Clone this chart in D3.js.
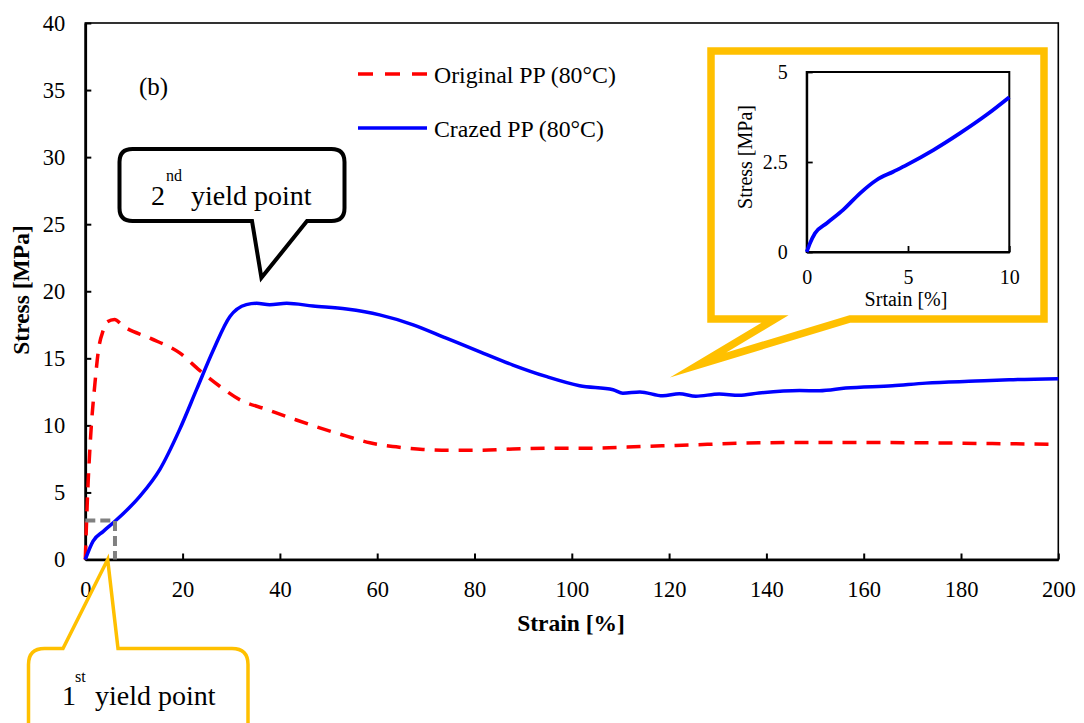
<!DOCTYPE html>
<html>
<head>
<meta charset="utf-8">
<script src="https://cdn.jsdelivr.net/npm/d3@7"></script>
<style>
  body { margin: 0; background: #fff; }
  svg text { font-family: "Liberation Serif", "Times New Roman", Tinos, "DejaVu Serif", serif; fill: #000; }
</style>
</head>
<body>
<svg id="chart" width="1084" height="723"></svg>
<script>
"use strict";

const serif = '"Liberation Serif", "Times New Roman", Tinos, "DejaVu Serif", serif';

// Original PP (80°C)
const origStrain = [0, 0.4, 1.1, 2.0, 2.7, 3.7, 4.4, 6.0, 7.8, 13.3, 19.4, 23.5, 27.7, 31.8, 37.2, 43.4, 47.5, 53.7, 58.5, 63.9, 69.4, 75.6, 81, 87.9, 94.7, 105, 115.3, 121.4, 138.5, 155.6, 172.8, 186.4, 198];
const origStress = [0, 4.2, 9.2, 13.2, 15.6, 17.1, 17.7, 17.9, 17.4, 16.5, 15.4, 14.1, 12.9, 11.9, 11.2, 10.4, 9.9, 9.2, 8.7, 8.4, 8.2, 8.14, 8.14, 8.24, 8.29, 8.3, 8.44, 8.5, 8.7, 8.73, 8.7, 8.64, 8.6];

// Crazed PP (80°C)
const crazStrain = [0, 1.6, 3.7, 6.1, 11.2, 15.3, 19.4, 22.9, 26.3, 29.7, 33.1, 35.2, 37.9, 41.4, 46.8, 53.7, 60.5, 67.4, 74.2, 81, 87.9, 94.7, 101.6, 108.5, 110.5, 114, 118.7, 122.1, 125.5, 130.3, 134.4, 138.5, 146.8, 150.9, 156.3, 165.9, 172.8, 183, 189.9, 200];
const crazStress = [0, 1.37, 2.1, 2.85, 4.7, 6.7, 9.7, 12.7, 15.6, 18.1, 19.0, 19.1, 19.0, 19.1, 18.9, 18.67, 18.24, 17.5, 16.5, 15.5, 14.5, 13.65, 12.96, 12.66, 12.4, 12.49, 12.2, 12.36, 12.17, 12.34, 12.24, 12.41, 12.6, 12.58, 12.78, 12.96, 13.15, 13.3, 13.4, 13.48];

// inset: crazed PP, first 10 %
const insetStrain = [0, 0.16, 0.41, 0.99, 1.8, 2.63, 3.45, 4.27, 4.94, 6.25, 7.57, 8.88, 10];
const insetStress = [0, 0.24, 0.52, 0.8, 1.17, 1.63, 2.0, 2.23, 2.42, 2.83, 3.3, 3.81, 4.3];

const xTicks = [0, 20, 40, 60, 80, 100, 120, 140, 160, 180, 200];
const yTicks = [0, 5, 10, 15, 20, 25, 30, 35, 40];
const insetXTicks = [0, 5, 10];
const insetYTicks = [0, 2.5, 5];

const seriesNames = ["Original PP (80°C)", "Crazed PP (80°C)"];
const colors = ["#FF0000", "#0000FF"];
const gold = "#FFC000";

const svg = d3.select("#chart");

const x = d3.scaleLinear().domain([0, 200]).range([85.3, 1058.3]);
const y = d3.scaleLinear().domain([0, 40]).range([559.5, 23]);

const zip = (a, b) => a.map((v, i) => [v, b[i]]);

// frame
svg.append("rect")
  .attr("x", x(0)).attr("y", y(40))
  .attr("width", x(200) - x(0)).attr("height", y(0) - y(40))
  .attr("fill", "none").attr("stroke", "#000").attr("stroke-width", 1.6);

// axes
const xAxis = d3.axisBottom(x).tickValues(xTicks).tickSizeInner(-6).tickSizeOuter(0).tickPadding(22);
const yAxis = d3.axisLeft(y).tickValues(yTicks).tickSizeInner(-6).tickSizeOuter(0).tickPadding(20);

const gx = svg.append("g").attr("transform", `translate(0,${y(0)})`).call(xAxis);
const gy = svg.append("g").attr("transform", `translate(${x(0)},0)`).call(yAxis);
[gx, gy].forEach(g => {
  g.attr("font-family", null);
  g.select(".domain").attr("stroke-width", 2.6);
  g.selectAll(".tick line").attr("stroke-width", 2);
  g.selectAll(".tick text")
    .style("font-family", serif)
    .style("font-size", "22.5px").attr("fill", "#000");
});

svg.append("text")
  .attr("x", 571).attr("y", 631)
  .attr("text-anchor", "middle")
  .style("font-size", "23.5px").style("font-weight", "bold")
  .text("Strain [%]");

svg.append("text")
  .attr("transform", "translate(29,290) rotate(-90)")
  .attr("text-anchor", "middle")
  .style("font-size", "23.5px").style("font-weight", "bold")
  .text("Stress [MPa]");

svg.append("text")
  .attr("x", 139).attr("y", 95)
  .style("font-size", "25px")
  .text("(b)");

// curves
const line = d3.line().x(d => x(d[0])).y(d => y(d[1])).curve(d3.curveMonotoneX);

svg.append("path")
  .datum(zip(origStrain, origStress))
  .attr("d", line)
  .attr("fill", "none")
  .attr("stroke", colors[0])
  .attr("stroke-width", 3.5)
  .attr("stroke-dasharray", "14,10");

svg.append("path")
  .datum(zip(crazStrain, crazStress))
  .attr("d", line)
  .attr("fill", "none")
  .attr("stroke", colors[1])
  .attr("stroke-width", 3.5);

// legend
const legend = svg.append("g");
seriesNames.forEach((name, i) => {
  const ly = 74 + i * 54;
  legend.append("line")
    .attr("x1", 358).attr("x2", 427).attr("y1", ly).attr("y2", ly)
    .attr("stroke", colors[i]).attr("stroke-width", 3.5)
    .attr("stroke-dasharray", i === 0 ? "15,12" : null);
  legend.append("text")
    .attr("x", 434).attr("y", ly + 9)
    .style("font-size", "23.8px")
    .text(name);
});

// gray dashed box around first yield region
const boxX = 6.1, boxY = 2.9;
svg.append("path")
  .attr("d", `M${x(0)},${y(boxY)} H${x(boxX)} V${y(0)}`)
  .attr("fill", "none").attr("stroke", "#808080")
  .attr("stroke-width", 4).attr("stroke-dasharray", "10,5");

// callout path helpers
function calloutBottom(x0, y0, x1, y1, r, tl, tr, tx, ty) {
  const q = r ? (a, b, c, d) => `Q${a},${b} ${c},${d}` : (a, b, c, d) => `L${a},${b}`;
  return `M${x0 + r},${y0} H${x1 - r} ${q(x1, y0, x1, y0 + r)} V${y1 - r} ${q(x1, y1, x1 - r, y1)}` +
    ` H${tr} L${tx},${ty} L${tl},${y1} H${x0 + r} ${q(x0, y1, x0, y1 - r)} V${y0 + r} ${q(x0, y0, x0 + r, y0)} Z`;
}
function calloutTop(x0, y0, x1, y1, r, tl, tr, tx, ty) {
  return `M${x0 + r},${y0} H${tl} L${tx},${ty} L${tr},${y0} H${x1 - r} Q${x1},${y0} ${x1},${y0 + r}` +
    ` V${y1 - r} Q${x1},${y1} ${x1 - r},${y1} H${x0 + r} Q${x0},${y1} ${x0},${y1 - r} V${y0 + r} Q${x0},${y0} ${x0 + r},${y0} Z`;
}

// 2nd yield point callout (black)
const tip2 = [36.2, 21.0];
svg.append("path")
  .attr("d", calloutBottom(119.5, 149, 344.5, 221, 13, 252, 307, x(tip2[0]), y(tip2[1])))
  .attr("fill", "#fff").attr("stroke", "#000").attr("stroke-width", 4)
  .attr("stroke-linejoin", "miter");

const t2 = svg.append("g").style("font-size", "28px");
t2.append("text").attr("x", 151).attr("y", 205).text("2");
t2.append("text").attr("x", 166).attr("y", 181).style("font-size", "16px").text("nd");
t2.append("text").attr("x", 191).attr("y", 205).text("yield point");

// 1st yield point callout (gold)
const tip1 = [4.6, 0];
svg.append("path")
  .attr("d", calloutTop(28.5, 648.5, 248, 745, 16, 63, 118, x(tip1[0]), y(tip1[1])))
  .attr("fill", "#fff").attr("stroke", gold).attr("stroke-width", 3.5);

const t1 = svg.append("g").style("font-size", "28px");
t1.append("text").attr("x", 62).attr("y", 705).text("1");
t1.append("text").attr("x", 75).attr("y", 682).style("font-size", "16px").text("st");
t1.append("text").attr("x", 95).attr("y", 705).text("yield point");

// inset callout (gold, square)
svg.append("path")
  .attr("d", calloutBottom(711, 51, 1044, 319, 0, 775, 850, 698, 365))
  .attr("fill", "#fff").attr("stroke", gold).attr("stroke-width", 7.5)
  .attr("stroke-linejoin", "miter").attr("stroke-miterlimit", 10);

// inset chart
const ix = d3.scaleLinear().domain([0, 10]).range([806.7, 1009.3]);
const iy = d3.scaleLinear().domain([0, 5]).range([252, 72]);
const inset = svg.append("g");

inset.append("rect")
  .attr("x", ix(0)).attr("y", iy(5))
  .attr("width", ix(10) - ix(0)).attr("height", iy(0) - iy(5))
  .attr("fill", "#fff").attr("stroke", "#000").attr("stroke-width", 2);

const ixAxis = d3.axisBottom(ix).tickValues(insetXTicks).tickSizeInner(-6).tickSizeOuter(0).tickPadding(18);
const iyAxis = d3.axisLeft(iy).tickValues(insetYTicks).tickFormat(d => String(d)).tickSizeInner(-6).tickSizeOuter(0).tickPadding(19);
const igx = inset.append("g").attr("transform", `translate(0,${iy(0)})`).call(ixAxis);
const igy = inset.append("g").attr("transform", `translate(${ix(0)},0)`).call(iyAxis);
[igx, igy].forEach(g => {
  g.attr("font-family", null);
  g.select(".domain").attr("stroke-width", 2);
  g.selectAll(".tick line").attr("stroke-width", 1.8);
  g.selectAll(".tick text")
    .style("font-family", serif)
    .style("font-size", "20px").attr("fill", "#000");
});

inset.append("path")
  .datum(zip(insetStrain, insetStress))
  .attr("d", d3.line().x(d => ix(d[0])).y(d => iy(d[1])).curve(d3.curveMonotoneX))
  .attr("fill", "none").attr("stroke", colors[1]).attr("stroke-width", 3.8);

inset.append("text")
  .attr("x", 906).attr("y", 306)
  .attr("text-anchor", "middle")
  .style("font-size", "20px")
  .text("Srtain [%]");

inset.append("text")
  .attr("transform", "translate(752,157) rotate(-90)")
  .attr("text-anchor", "middle")
  .style("font-size", "20px")
  .text("Stress [MPa]");
</script>
</body>
</html>
